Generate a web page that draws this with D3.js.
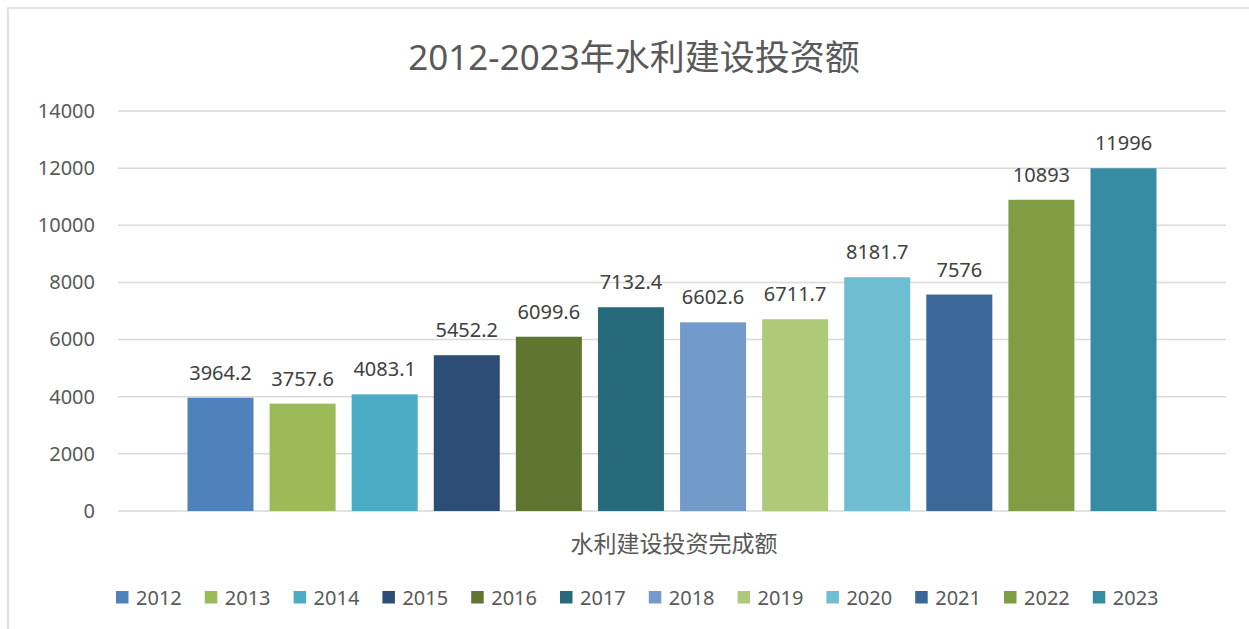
<!DOCTYPE html>
<html>
<head>
<meta charset="utf-8">
<script src="https://cdn.jsdelivr.net/npm/d3@7"></script>
<style>
  body { margin: 0; background: #fff; }
  svg text { font-family: "Noto Sans", "Noto Sans CJK SC", sans-serif; }
</style>
</head>
<body>
<script>
// data
const years = ['2012','2013','2014','2015','2016','2017','2018','2019','2020','2021','2022','2023'];
const values = [3964.2, 3757.6, 4083.1, 5452.2, 6099.6, 7132.4, 6602.6, 6711.7, 8181.7, 7576, 10893, 11996];
const colors = ['#4f81bd','#9bbb59','#4bacc6','#2c4d75','#5f7530','#276a7c',
                '#729aca','#afc97a','#6fbdd1','#3a6698','#7f9d42','#358ca3'];
const yTicks = [0, 2000, 4000, 6000, 8000, 10000, 12000, 14000];
const title = '2012-2023年水利建设投资额';
const category = '水利建设投资完成额';

const W = 1249, H = 629;
const plot = {left: 118, right: 1226, top: 111, bottom: 511};

const svg = d3.select("body").append("svg")
    .attr("width", W)
    .attr("height", H);

// chart frame
svg.append("rect")
    .attr("x", 8).attr("y", 8)
    .attr("width", W + 20).attr("height", H + 20)
    .attr("fill", "#fff")
    .attr("stroke", "#d9d9d9")
    .attr("stroke-width", 1.5);

const y = d3.scaleLinear()
    .domain([0, 14000])
    .range([plot.bottom, plot.top]);

const x = d3.scaleBand()
    .domain(years)
    .range([plot.left, plot.right])
    .paddingInner(0.196)
    .paddingOuter(0.8465);

//gridlines
svg.append("g")
    .selectAll("line")
    .data(yTicks)
    .enter()
    .append("line")
    .attr("x1", plot.left)
    .attr("x2", plot.right)
    .attr("y1", d => y(d))
    .attr("y2", d => y(d))
    .attr("stroke", "#d9d9d9")
    .attr("stroke-width", 1.5);

// y axis labels
const yAxis = svg.append("g")
    .attr("transform", `translate(${plot.left},0)`)
    .call(d3.axisLeft(y).tickValues(yTicks).tickSize(0).tickPadding(23).tickFormat(d3.format("d")));
yAxis.select(".domain").remove();
yAxis.selectAll("text")
    .attr("fill", "#595959")
    .style("font-size", "20px");

// bars
svg.selectAll(".bar")
    .data(years)
    .enter()
    .append("rect")
    .attr("class", "bar")
    .attr("x", d => x(d))
    .attr("width", x.bandwidth())
    .attr("y", (d, i) => y(values[i]))
    .attr("height", (d, i) => plot.bottom - y(values[i]))
    .attr("fill", (d, i) => colors[i]);

// value labels
svg.selectAll(".val")
    .data(years)
    .enter()
    .append("text")
    .attr("class", "val")
    .attr("x", d => x(d) + x.bandwidth() / 2)
    .attr("y", (d, i) => y(values[i]) - 18)
    .attr("text-anchor", "middle")
    .attr("fill", "#404040")
    .style("font-size", "20px")
    .text((d, i) => values[i]);

// title
svg.append("text")
    .attr("x", 634)
    .attr("y", 70)
    .attr("text-anchor", "middle")
    .attr("fill", "#595959")
    .style("font-size", "35px")
    .text(title);

// category label
svg.append("text")
    .attr("x", 674)
    .attr("y", 552)
    .attr("text-anchor", "middle")
    .attr("fill", "#595959")
    .style("font-size", "23px")
    .text(category);

// legend
const legend = svg.append("g")
    .selectAll("g")
    .data(years)
    .enter()
    .append("g")
    .attr("transform", (d, i) => `translate(${116 + i * 88.8},591)`);

legend.append("rect")
    .attr("width", 12.5)
    .attr("height", 12.5)
    .attr("fill", (d, i) => colors[i]);

legend.append("text")
    .attr("x", 20)
    .attr("y", 14)
    .attr("fill", "#595959")
    .style("font-size", "20px")
    .text(d => d);
</script>
</body>
</html>
